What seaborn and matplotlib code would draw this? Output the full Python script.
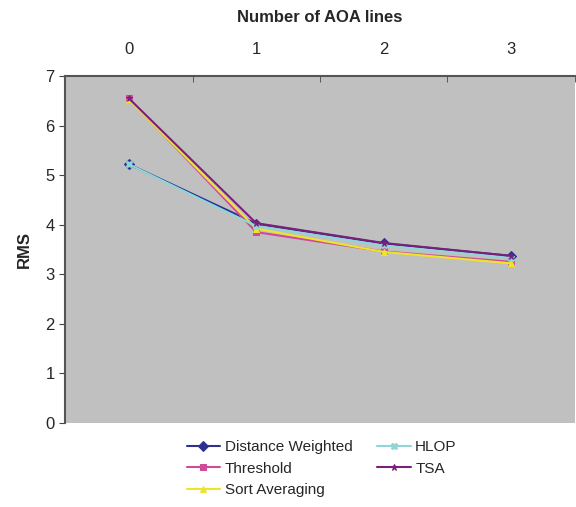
import pandas as pd
import matplotlib.pyplot as plt
import seaborn as sns

sns.set_style("white")
plt.rcParams['font.family'] = ['Liberation Sans', 'DejaVu Sans']

# Values
aoa_lines = [0, 1, 2, 3]
distance_weighted = [5.22, 4.02, 3.62, 3.37]
hlop = [5.22, 3.97, 3.58, 3.33]
threshold = [6.55, 3.85, 3.46, 3.25]
tsa = [6.55, 4.03, 3.63, 3.37]
sort_averaging = [6.53, 3.92, 3.45, 3.22]

series_names = ["Distance Weighted", "HLOP", "Threshold", "TSA", "Sort Averaging"]
series_values = [distance_weighted, hlop, threshold, tsa, sort_averaging]

rows = []
for name, vals in zip(series_names, series_values):
    for x, v in zip(aoa_lines, vals):
        rows.append({"AOA": x, "RMS": v, "Method": name})
df = pd.DataFrame(rows)

palette = {
    "Distance Weighted": "#2e3192",
    "HLOP": "#8fd6d6",
    "Threshold": "#d04a9c",
    "TSA": "#7a1f7a",
    "Sort Averaging": "#ece52a",
}
markers = {
    "Distance Weighted": "D",
    "HLOP": "X",
    "Threshold": "s",
    "TSA": "*",
    "Sort Averaging": "^",
}

fig = plt.figure(figsize=(5.76, 5.07), dpi=100)
ax = fig.add_axes([0.113, 0.166, 0.885, 0.684])
ax.set_facecolor("#c0c0c0")

# column-major order so the legend reads row by row like the original
legend_order = ["Distance Weighted", "Threshold", "Sort Averaging", "HLOP", "TSA"]

sns.lineplot(data=df, x="AOA", y="RMS", hue="Method", style="Method",
             hue_order=legend_order, style_order=legend_order,
             palette=palette, markers=markers, dashes=False,
             markersize=5, linewidth=1.5, ax=ax)

for line in ax.lines:
    line.set_markeredgecolor(line.get_color())

ax.set_xlim(-0.5, 3.5)
ax.set_ylim(0, 7)
ax.set_yticks(range(0, 8))
ax.set_xticks(aoa_lines)
ax.set_xticks([-0.5, 0.5, 1.5, 2.5, 3.5], minor=True)
ax.xaxis.tick_top()
ax.xaxis.set_label_position("top")
ax.tick_params(axis="x", which="major", length=0, labelsize=12, pad=14)
ax.tick_params(axis="x", which="minor", length=4, direction="in", color="#444444")
ax.tick_params(axis="y", length=4, direction="out", labelsize=12, left=True, color="#444444")
ax.set_xlabel("Number of AOA lines", fontsize=12, fontweight="bold", labelpad=14)
ax.set_ylabel("RMS", fontsize=12, fontweight="bold", labelpad=10)

for side in ["bottom", "right"]:
    ax.spines[side].set_visible(False)
for side in ["top", "left"]:
    ax.spines[side].set_color("#555555")
    ax.spines[side].set_linewidth(1.5)

# Legend below the plot area, two columns
handles, labels = ax.get_legend_handles_labels()
hmap = dict(zip(labels, handles))
ax.get_legend().remove()
leg_handles = [hmap[k] for k in legend_order]
for h in leg_handles:
    h.set_markeredgecolor(h.get_color())
fig.legend(leg_handles, legend_order, ncol=2, frameon=False,
           loc="lower left", bbox_to_anchor=(0.30, -0.008), fontsize=11,
           handlelength=2.2, handletextpad=0.3, columnspacing=1.6,
           labelspacing=0.5)

plt.savefig("out.png", dpi=100)
